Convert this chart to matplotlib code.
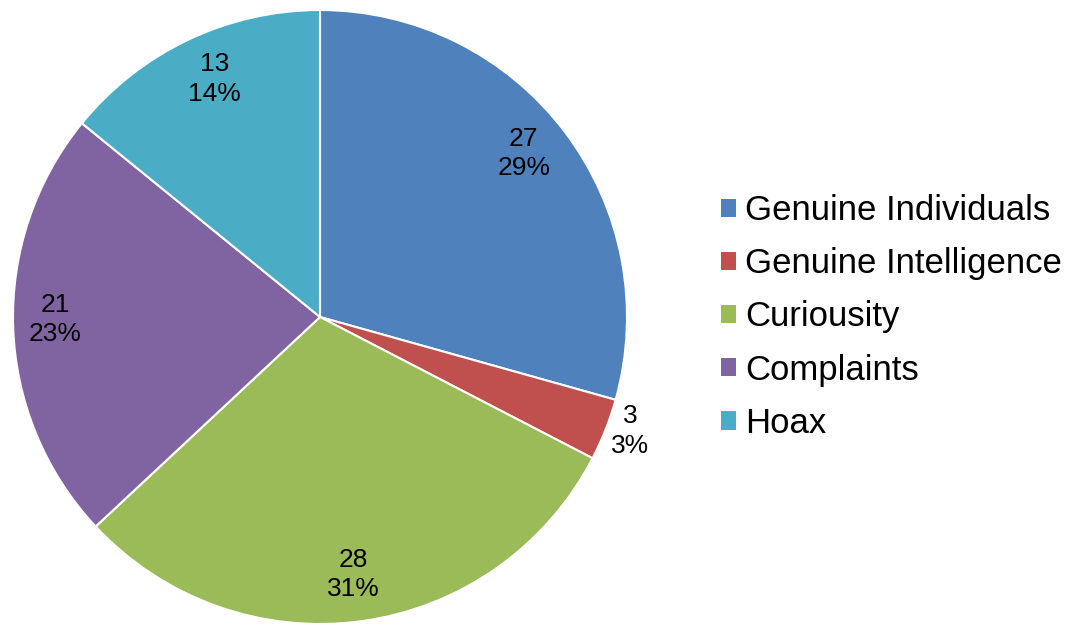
import matplotlib
matplotlib.use("Agg")
import matplotlib.pyplot as plt
import numpy as np
from matplotlib.patches import Patch

categories = ["Genuine Individuals", "Genuine Intelligence", "Curiousity", "Complaints", "Hoax"]
values = [27, 3, 28, 21, 13]
pct_labels = ["29%", "3%", "31%", "23%", "14%"]
colors = ["#4F81BD", "#C0504D", "#9BBB59", "#8064A2", "#4BACC6"]

# label placement: radial distance and angular nudge (degrees) from wedge centre
label_dist = [0.851, 1.076, 0.846, 0.863, 0.848]
label_nudge = [1.6, 1.3, -0.5, -1.4, -1.5]

plt.rcParams['font.family'] = ['Liberation Sans', 'DejaVu Sans']

fig = plt.figure(figsize=(10.69, 6.24), dpi=100)
W, H = 1069, 624
cx, cy, r = 320, 317, 307
ax = fig.add_axes([(cx - r) / W, (H - cy - r) / H, 2 * r / W, 2 * r / H])
wedges, _ = ax.pie(values, colors=colors, startangle=90, counterclock=False,
                   radius=1, wedgeprops=dict(edgecolor="white", linewidth=1.5))
ax.set_xlim(-1, 1)
ax.set_ylim(-1, 1)
ax.set_aspect("equal")
ax.axis("off")

for w, v, p, d, n in zip(wedges, values, pct_labels, label_dist, label_nudge):
    ang = np.deg2rad((w.theta1 + w.theta2) / 2 + n)
    ax.text(d * np.cos(ang), d * np.sin(ang), f"{v}\n{p}", ha="center", va="center",
            fontsize=19, linespacing=1.3, color="black", clip_on=False)

handles = [Patch(facecolor=c, edgecolor="none") for c in colors]
fig.legend(handles, categories, loc="center left", bbox_to_anchor=(721 / W, 1 - 317 / H),
           frameon=False, fontsize=25, handlelength=0.44, handleheight=0.44,
           handletextpad=0.25, labelspacing=0.58, borderpad=0, borderaxespad=0)

fig.savefig("out.png", dpi=100)
